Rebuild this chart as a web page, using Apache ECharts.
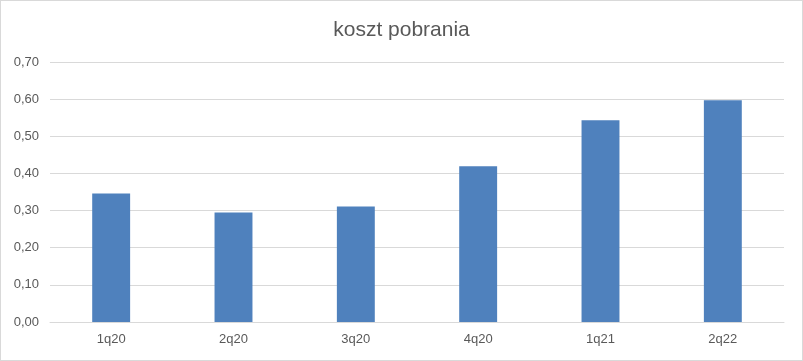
<!DOCTYPE html>
<html><head><meta charset="utf-8">
<script src="https://cdn.jsdelivr.net/npm/echarts@6/dist/echarts.min.js"></script>
<style>html,body{margin:0;padding:0;background:#fff}
#c{width:801px;height:359px;border:1px solid #d9d9d9}</style>
</head><body><div id="c"></div>
<script>
const categories = ['1q20','2q20','3q20','4q20','1q21','2q22'];
const values = [0.346, 0.295, 0.311, 0.419, 0.543, 0.597];
const yTicks = {min:0, max:0.7, interval:0.1};
const chart = echarts.init(document.getElementById('c'));
chart.setOption({
  animation:false,
  title:{text:'koszt pobrania', left:'center', top:14,
    textStyle:{fontFamily:'Liberation Sans', fontSize:21, fontWeight:'normal', color:'#595959'}},
  grid:{left:49, right:18, top:61, bottom:38},
  xAxis:{type:'category', data:categories,
    axisLine:{lineStyle:{color:'#d9d9d9'}}, axisTick:{show:false},
    axisLabel:{fontFamily:'Liberation Sans', fontSize:13, color:'#595959', margin:11}},
  yAxis:{type:'value', min:yTicks.min, max:yTicks.max, interval:yTicks.interval,
    axisLine:{show:false}, axisTick:{show:false},
    splitLine:{lineStyle:{color:'#d9d9d9'}},
    axisLabel:{fontFamily:'Liberation Sans', fontSize:13, color:'#595959', margin:11,
      formatter:v=>v.toFixed(2).replace('.',',')}},
  series:[{type:'bar', data:values, barWidth:'31%', itemStyle:{color:'#4f81bd'}}]
});
</script></body></html>
